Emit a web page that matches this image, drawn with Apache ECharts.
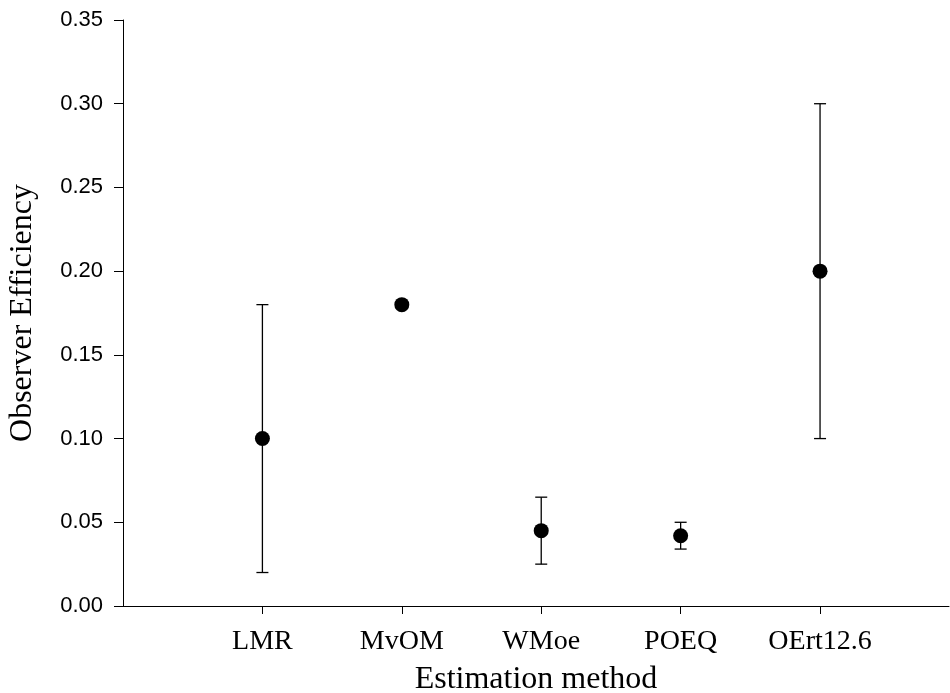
<!DOCTYPE html>
<html>
<head>
<meta charset="utf-8">
<script src="https://cdn.jsdelivr.net/npm/echarts@6/dist/echarts.min.js"></script>
<style>
  html, body { margin: 0; padding: 0; background: #fff; }
  #chart { width: 950px; height: 693px; }
</style>
</head>
<body>
<div id="chart"></div>
<script>
// estimation methods and observer efficiency (mean with lower / upper bounds)
var methods = ["LMR", "MvOM", "WMoe", "POEQ", "OErt12.6"];
var means = [0.10, 0.18, 0.045, 0.042, 0.20];
var lower = [0.02, null, 0.025, 0.034, 0.10];
var upper = [0.18, null, 0.065, 0.050, 0.30];
var yTicks = [0, 0.05, 0.10, 0.15, 0.20, 0.25, 0.30, 0.35];

var positions = methods.map(function (m, i) { return i + 1; });

var pointData = [], barData = [];
for (var i = 0; i < methods.length; i++) {
  pointData.push([positions[i], means[i]]);
  if (lower[i] != null && upper[i] != null) {
    barData.push([positions[i], lower[i], upper[i]]);
  }
}

var chart = echarts.init(document.getElementById("chart"));

chart.setOption({
  animation: false,
  backgroundColor: "#fff",
  grid: { left: 123, right: 1, top: 20, bottom: 87, containLabel: false, outerBoundsMode: "none" },
  xAxis: {
    type: "value",
    min: 0,
    max: 5.925,
    interval: 1,
    name: "Estimation method",
    nameLocation: "middle",
    nameGap: 58,
    nameTextStyle: { fontFamily: "Liberation Serif", fontSize: 32, color: "#000" },
    axisLine: { show: true, onZero: false, lineStyle: { color: "#000", width: 1 } },
    axisTick: { show: true, inside: false, length: 8, customValues: positions, lineStyle: { color: "#000" } },
    axisLabel: {
      customValues: positions,
      margin: 22,
      fontFamily: "Liberation Serif",
      fontSize: 28,
      color: "#000",
      formatter: function (v) { return methods[Math.round(v) - 1] || ""; }
    },
    splitLine: { show: false }
  },
  yAxis: {
    type: "value",
    min: 0,
    max: 0.35,
    interval: 0.05,
    name: "Observer Efficiency",
    nameLocation: "middle",
    nameGap: 84,
    nameTextStyle: { fontFamily: "Liberation Serif", fontSize: 32, color: "#000" },
    axisLine: { show: true, lineStyle: { color: "#000", width: 1 } },
    axisTick: { show: true, inside: false, length: 9, lineStyle: { color: "#000" } },
    axisLabel: {
      margin: 20,
      fontFamily: "Liberation Sans",
      fontSize: 22,
      color: "#000",
      customValues: yTicks,
      formatter: function (v) { return v.toFixed(2); }
    },
    splitLine: { show: false }
  },
  series: [
    {
      type: "custom",
      data: barData,
      z: 2,
      renderItem: function (params, api) {
        var x = api.value(0);
        var lo = api.coord([x, api.value(1)]);
        var hi = api.coord([x, api.value(2)]);
        var hw = 6;
        var style = { stroke: "#000", lineWidth: 1.3 };
        return {
          type: "group",
          children: [
            { type: "line", shape: { x1: lo[0], y1: lo[1], x2: hi[0], y2: hi[1] }, style: style },
            { type: "line", shape: { x1: hi[0] - hw, y1: hi[1], x2: hi[0] + hw, y2: hi[1] }, style: style },
            { type: "line", shape: { x1: lo[0] - hw, y1: lo[1], x2: lo[0] + hw, y2: lo[1] }, style: style }
          ]
        };
      }
    },
    {
      type: "scatter",
      data: pointData,
      symbol: "circle",
      symbolSize: 15,
      z: 3,
      itemStyle: { color: "#000", opacity: 1 }
    }
  ]
});
</script>
</body>
</html>
